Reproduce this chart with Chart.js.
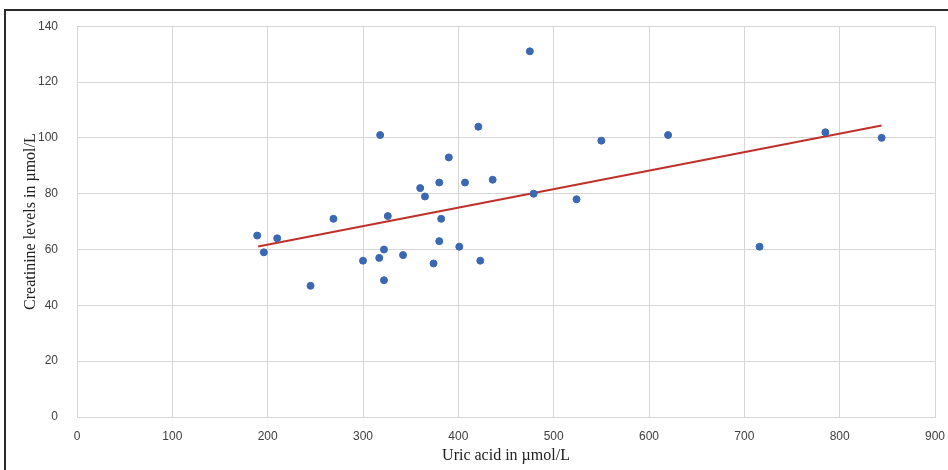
<!DOCTYPE html>
<html>
<head>
<meta charset="utf-8">
<script src="https://cdn.jsdelivr.net/npm/chart.js@4.4.1/dist/chart.umd.min.js"></script>
<style>
  html, body { margin: 0; padding: 0; background: #fff; overflow: hidden; }
  #wrap { position: relative; width: 948px; height: 470px; }
  #frame { position: absolute; left: 4px; top: 9px; width: 980px; height: 500px; border: 2px solid #2b2b2b; pointer-events: none; }
  canvas { position: absolute; left: 0; top: 0; }
</style>
</head>
<body>
<div id="wrap">
  <canvas id="chart" width="948" height="470"></canvas>
  <div id="frame"></div>
</div>
<script>
// uric acid (µmol/L) vs creatinine (µmol/L)
const uricAcid = [189, 196, 210, 245, 269, 300, 317, 322, 322, 326, 318, 342, 360, 365, 380, 382,
                  380, 374, 390, 401, 407, 421, 423, 436, 475, 479, 524, 550, 620, 716, 785, 844];
const creatinine = [65, 59, 64, 47, 71, 56, 57, 60, 49, 72, 101, 58, 82, 79, 84, 71,
                    63, 55, 93, 61, 84, 104, 56, 85, 131, 80, 78, 99, 101, 61, 102, 100];

// linear trendline end points
const trendX = [190, 844];
const trendY = [61.1, 104.4];

const xTicks = [0, 100, 200, 300, 400, 500, 600, 700, 800, 900];
const yTicks = [0, 20, 40, 60, 80, 100, 120, 140];

const points = uricAcid.map((x, i) => ({ x: x, y: creatinine[i] }));
const trend = trendX.map((x, i) => ({ x: x, y: trendY[i] }));

const gridColor = '#d6d6d6';
const tickFont = { family: "'Liberation Sans Narrow', 'Liberation Sans', sans-serif", size: 12 };
const titleFont = { family: "'Liberation Serif', 'Times New Roman', serif", size: 16 };

new Chart(document.getElementById('chart'), {
    type: 'scatter',
    data: {
        datasets: [
            {
                label: 'Patients',
                data: points,
                backgroundColor: '#3b68b3',
                borderColor: '#3b68b3',
                pointRadius: 3.5,
                pointHoverRadius: 3.5
            },
            {
                type: 'line',
                label: 'Trend',
                data: trend,
                borderColor: '#c0302a',
                borderWidth: 2,
                pointRadius: 0,
                fill: false
            }
        ]
    },
    options: {
        responsive: false,
        animation: false,
        layout: { padding: { left: 0, right: 13, top: 25, bottom: 0 } },
        plugins: {
            legend: { display: false },
            tooltip: { enabled: false }
        },
        scales: {
            x: {
                type: 'linear',
                min: 0,
                max: 900,
                afterBuildTicks: (s) => { s.ticks = xTicks.map(v => ({ value: v })); },
                afterFit: (s) => { s.height = 53; s.paddingLeft = 0; s.paddingRight = 0; },
                grid: { color: gridColor, drawTicks: false },
                border: { color: gridColor },
                ticks: { color: '#404040', font: tickFont, padding: 12 },
                title: {
                    display: true,
                    text: 'Uric acid in µmol/L',
                    color: '#222',
                    font: titleFont,
                    padding: { top: 0, bottom: 5 }
                }
            },
            y: {
                type: 'linear',
                min: 0,
                max: 140,
                afterBuildTicks: (s) => { s.ticks = yTicks.map(v => ({ value: v })); },
                afterFit: (s) => { s.width = 77; },
                grid: { color: gridColor, drawTicks: false },
                border: { color: gridColor },
                ticks: { color: '#404040', font: tickFont, padding: 19 },
                title: {
                    display: true,
                    text: 'Creatinine levels in µmol/L',
                    color: '#222',
                    font: titleFont,
                    padding: { top: 21, bottom: 0 }
                }
            }
        }
    }
});
</script>
</body>
</html>
